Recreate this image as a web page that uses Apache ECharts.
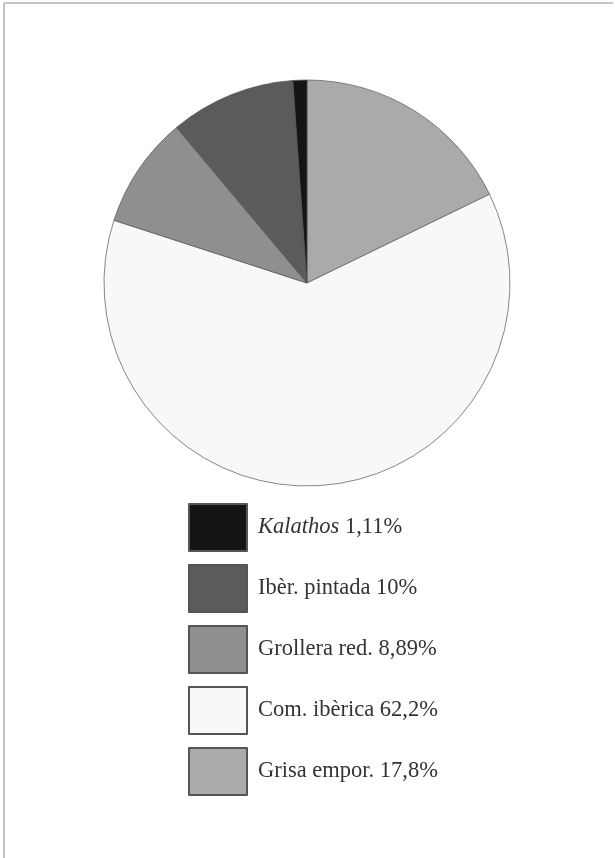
<!DOCTYPE html>
<html>
<head>
<meta charset="utf-8">
<script src="https://cdn.jsdelivr.net/npm/echarts@6/dist/echarts.min.js"></script>
<style>
  html, body { margin: 0; padding: 0; background: #fff; }
  #chart { width: 615px; height: 858px; }
</style>
</head>
<body>
<div id="chart"></div>
<script>
// slices, clockwise from 12 o'clock
const names = ['Grisa empor.', 'Com. ibèrica', 'Grollera red.', 'Ibèr. pintada', 'Kalathos'];
const values = [17.8, 62.2, 8.89, 10, 1.11];
const pctLabels = ['17,8%', '62,2%', '8,89%', '10%', '1,11%'];
const colors = ['#aaaaaa', '#f8f8f8', '#8f8f8f', '#5b5b5b', '#141414'];
// legend reads top to bottom
const legendOrder = ['Kalathos', 'Ibèr. pintada', 'Grollera red.', 'Com. ibèrica', 'Grisa empor.'];

const chart = echarts.init(document.getElementById('chart'));

const pieData = names.map((n, i) => ({
  name: n,
  value: values[i],
  itemStyle: { color: colors[i] }
}));

chart.setOption({
  animation: false,
  backgroundColor: '#fff',
  graphic: [
    { type: 'line', shape: { x1: 4, y1: 3, x2: 613, y2: 3 }, style: { stroke: '#b0b0b0', lineWidth: 1.5 } },
    { type: 'line', shape: { x1: 4, y1: 3, x2: 4, y2: 858 }, style: { stroke: '#b0b0b0', lineWidth: 1.5 } }
  ],
  legend: {
    orient: 'vertical',
    left: 188,
    top: 503,
    padding: 0,
    itemWidth: 58,
    itemHeight: 47,
    itemGap: 12,
    icon: 'rect',
    data: legendOrder,
    selectedMode: false,
    formatter: function (name) {
      const p = pctLabels[names.indexOf(name)];
      if (name === 'Kalathos') return '{i|' + name + '} {n|' + p + '}';
      return '{n|' + name + ' ' + p + '}';
    },
    textStyle: {
      fontFamily: 'Liberation Serif',
      fontSize: 22.5,
      color: '#333',
      padding: [0, 0, 0, 6],
      rich: {
        i: { fontFamily: 'Liberation Serif', fontSize: 22.5, fontStyle: 'italic', color: '#333' },
        n: { fontFamily: 'Liberation Serif', fontSize: 22.5, color: '#333' }
      }
    }
  },
  series: [{
    type: 'pie',
    center: [307, 283],
    radius: 203,
    startAngle: 90,
    clockwise: true,
    label: { show: false },
    labelLine: { show: false },
    emphasis: { disabled: true },
    itemStyle: { borderColor: '#555555', borderWidth: 0.7 },
    data: pieData
  }]
});
</script>
</body>
</html>
